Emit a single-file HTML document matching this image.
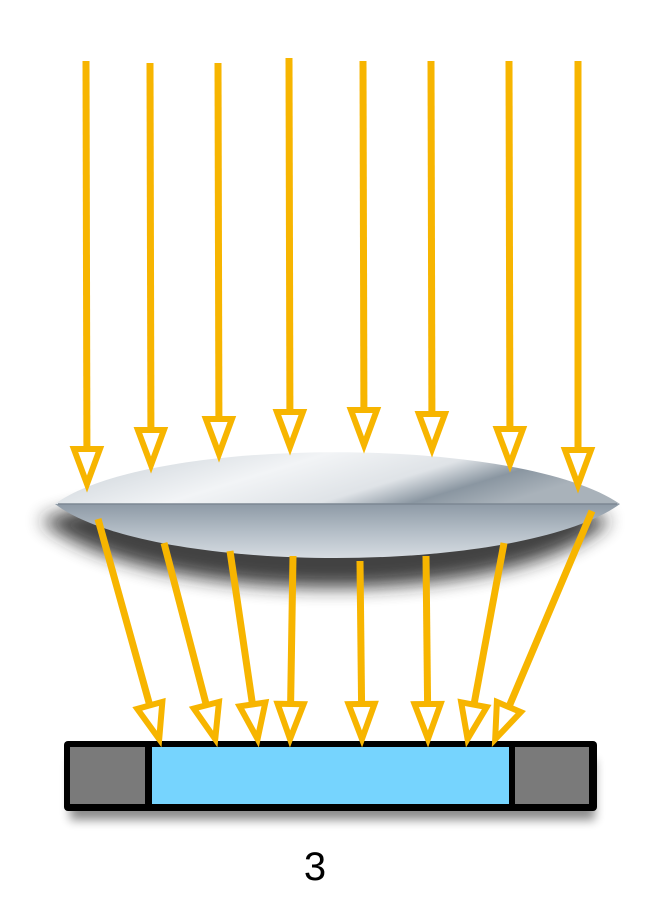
<!DOCTYPE html>
<html><head><meta charset="utf-8"><style>
html,body{margin:0;padding:0;background:#fff;}
svg{display:block}
</style></head><body>
<svg id="s" width="658" height="914" viewBox="0 0 658 914" xmlns="http://www.w3.org/2000/svg">
<defs>
<filter id="blur" x="-20%" y="-50%" width="140%" height="200%"><feGaussianBlur stdDeviation="9"/></filter>
<filter id="blur2" x="-20%" y="-50%" width="140%" height="200%"><feGaussianBlur stdDeviation="5"/></filter>
<linearGradient id="topg" x1="0" y1="0" x2="1" y2="0.3">
<stop offset="0" stop-color="#c4ccd3"/><stop offset="0.45" stop-color="#f2f4f6"/><stop offset="0.7" stop-color="#dfe3e7"/><stop offset="0.85" stop-color="#8a96a1"/><stop offset="1" stop-color="#a9b2ba"/>
</linearGradient>
<linearGradient id="botg" x1="0" y1="0" x2="0" y2="1">
<stop offset="0" stop-color="#8e9aa6"/><stop offset="0.5" stop-color="#b3bdc6"/><stop offset="1" stop-color="#d6dce1"/>
</linearGradient>
</defs>
<!-- lens shadow -->
<path d="M40,520 C150,480 520,480 610,520 C520,610 150,610 40,520 Z" fill="#222" opacity="0.85" filter="url(#blur)"/>
<!-- lens -->
<path d="M55,504 C150,435 520,435 620,504 Z" fill="url(#topg)"/>
<path d="M55,504 L620,504 C520,576 150,576 55,504 Z" fill="url(#botg)"/>
<line x1="58" y1="504" x2="617" y2="504" stroke="#7d8893" stroke-width="1.5"/>
<!-- detector shadow -->
<rect x="70" y="760" width="525" height="60" fill="#000" opacity="0.45" filter="url(#blur2)"/>
<!-- detector -->
<rect x="64" y="741" width="533" height="70" rx="4" fill="#000"/>
<rect x="70" y="747" width="75" height="57" fill="#7a7a7a"/>
<rect x="152" y="747" width="357" height="57" fill="#76d4fe"/>
<rect x="515" y="747" width="74" height="57" fill="#7a7a7a"/>
<text x="315" y="880" font-family="Liberation Sans, sans-serif" font-size="40" text-anchor="middle" fill="#000">3</text>
<g id="arrows"></g>
</svg>
<script>
var A=[[86,61,87,487],[150,63,151,468],[218,63,219,457],[289,58,290,450],[363,61,364,448],[431,61,432,452],[509,61,510,467],[578,61,578,488],
[98,519,160,742],[164,543,216,742],[230,551,258,742],[293,556,290,742],[360,561,362,742],[426,556,428,742],[504,543,467,742],[592,511,494,742]];
var g=document.getElementById('arrows'),h='';
var C='#f7b500';
A.forEach(function(a){
 var dx=a[2]-a[0],dy=a[3]-a[1],L=Math.sqrt(dx*dx+dy*dy),ux=dx/L,uy=dy/L,px=-uy,py=ux;
 var HL=38,HW=13;
 var bx=a[2]-ux*HL,by=a[3]-uy*HL;
 h+='<line x1="'+a[0]+'" y1="'+a[1]+'" x2="'+bx+'" y2="'+by+'" stroke="'+C+'" stroke-width="7"/>';
 var p1=(bx+px*HW)+','+(by+py*HW),p2=(bx-px*HW)+','+(by-py*HW),p3=(a[2]-ux*3)+','+(a[3]-uy*3);
 h+='<polygon points="'+p1+' '+p2+' '+p3+'" fill="#fff" stroke="'+C+'" stroke-width="6" stroke-linejoin="miter"/>';
});
g.innerHTML=h;
</script>
</body></html>
